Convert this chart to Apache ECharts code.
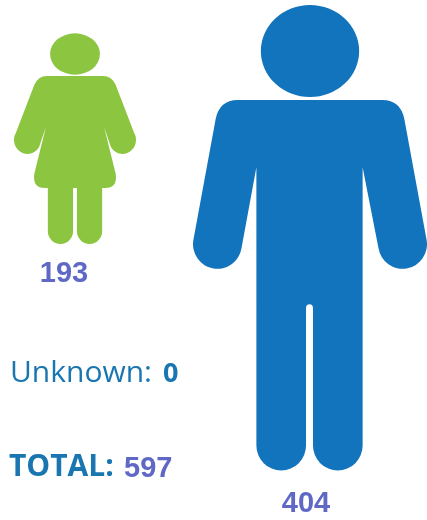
<!DOCTYPE html>
<html>
<head>
<meta charset="utf-8">
<style>
  html, body { margin: 0; padding: 0; background: #fff; }
  #chart { width: 427px; height: 520px; }
</style>
<script src="https://cdn.jsdelivr.net/npm/echarts@6/dist/echarts.min.js"></script>
</head>
<body>
<div id="chart"></div>
<script>
// data
const categories = ['Female', 'Male']
const femaleValues = [193]
const maleValues = [404]
const unknownValues = [0]
const totalValues = [597]

const figureColors = ['#8cc540', '#1274bc']
const numberColor = '#6068c6'
const textColor = '#1a76b0'

const femalePath = 'path://M49.3 54A25.7 20.7 0 1 1 100.7 54A25.7 20.7 0 1 1 49.3 54Z' +
  'M46 76L104 76Q113 76 117 85L136 133' +
  'A13.5 13.5 0 0 1 112 147L105 127L117 174Q119 188 106 188L103 188L103 231' +
  'A13 13 0 0 1 77 231L77 188L73 188L73 231A13 13 0 0 1 47 231L47 188L44 188' +
  'Q31 188 33 174L45 127L38 147A13.5 13.5 0 0 1 14 133L33 85Q37 76 46 76Z'

const malePath = 'path://M261.5 51A49.5 46 0 1 1 360.5 51A49.5 46 0 1 1 261.5 51Z' +
  'M238 100L384 100Q402 100 406 119L428.5 240' +
  'A24 24 0 0 1 380 248L364 167L364 445A25 25 0 0 1 314 445L314 308Q314 304 310.5 304' +
  'Q307 304 307 308L307 445A25 25 0 0 1 257 445L257 167L242 248' +
  'A24 24 0 0 1 193.5 240L216 119Q220 100 238 100Z'

const hiddenAxis = (type, gridIndex, extra) => ({ type, gridIndex, show: false, ...extra })

const numberLabel = offset => ({
  show: true,
  position: 'bottom',
  distance: 15,
  offset,
  color: numberColor,
  fontFamily: 'Liberation Sans',
  fontWeight: 'bold',
  fontSize: 29
})

const textItem = (x, y, text, fontFamily, fontWeight, fontSize, fill) => ({
  type: 'text',
  x,
  y,
  style: { text, fontFamily, fontWeight, fontSize, fill, textVerticalAlign: 'bottom' }
})

const myChart = echarts.init(document.getElementById('chart'), null, { renderer: 'canvas' })

myChart.setOption({
  animation: false,
  backgroundColor: '#fff',
  grid: [
    { left: 14, top: 33.3, width: 122, height: 210.7 },
    { left: 193, top: 5, width: 236, height: 465.5 }
  ],
  xAxis: [
    hiddenAxis('category', 0, { data: [categories[0]] }),
    hiddenAxis('category', 1, { data: [categories[1]] })
  ],
  yAxis: [
    hiddenAxis('value', 0, { min: 0, max: femaleValues[0] }),
    hiddenAxis('value', 1, { min: 0, max: maleValues[0] })
  ],
  series: [
    {
      type: 'pictorialBar',
      name: categories[0],
      xAxisIndex: 0,
      yAxisIndex: 0,
      barWidth: '100%',
      symbol: femalePath,
      symbolSize: ['100%', '100%'],
      itemStyle: { color: figureColors[0] },
      label: numberLabel([-11, 0]),
      data: femaleValues
    },
    {
      type: 'pictorialBar',
      name: categories[1],
      xAxisIndex: 1,
      yAxisIndex: 1,
      barWidth: '100%',
      symbol: malePath,
      symbolSize: ['100%', '100%'],
      itemStyle: { color: figureColors[1] },
      label: numberLabel([-4, 4]),
      data: maleValues
    }
  ],
  graphic: [
    textItem(10, 388, 'Unknown:', 'Open Sans', 'normal', 30, textColor),
    textItem(163, 388, String(unknownValues[0]), 'Open Sans', 'bold', 27, textColor),
    textItem(9, 482, 'TOTAL:', 'Open Sans', 'bold', 30, textColor),
    textItem(124, 483, String(totalValues[0]), 'Liberation Sans', 'bold', 29, numberColor)
  ]
})
</script>
</body>
</html>
